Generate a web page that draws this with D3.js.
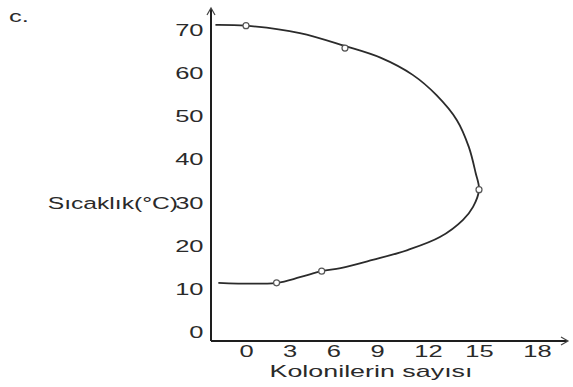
<!DOCTYPE html>
<html>
<head>
<meta charset="utf-8">
<script src="https://cdn.jsdelivr.net/npm/d3@7"></script>
<style>
  body { margin: 0; background: #fff; }
  svg text { font-family: "Liberation Sans", Arial, sans-serif; fill: #2a2a2a; }
</style>
</head>
<body>
<svg id="chart" width="573" height="387"></svg>
<script>
// values
var yTicks = [0, 10, 20, 30, 40, 50, 60, 70];
var xTicks = [0, 3, 6, 9, 12, 15, 18];

// curve trace: upper branch out to x=15, then lower branch back to the axis
var curveX = [-2.1, 0, 3.7, 6.8, 9.2, 11.1, 12.5, 13.7, 14.4, 14.8, 15, 14.65, 14.06, 12.7, 10.8, 8.7, 6.5, 5.2, 3.7, 2.1, -1.9];
var curveY = [71.2, 71, 69.3, 66.3, 63.6, 59.6, 54.9, 49.1, 42.9, 36.9, 33, 29, 26, 22, 19, 16.7, 14.8, 14.1, 12.7, 11.4, 11.4];

// plotted (circled) points
var pointX = [0, 6.8, 15, 5.2, 2.1];
var pointY = [71, 65.8, 33, 14.1, 11.4];

var yLabel = "Sıcaklık(°C)";
var xLabel = "Kolonilerin sayısı";
var figLabel = "c.";

var stretch = "scale(1.5,1)"; // the scanned lettering is wide

var svg = d3.select("#chart");

// the hand drawn tick spacing is uneven, so a piecewise scale
var x = d3.scaleLinear().domain([0, 9, 15, 18]).range([246, 377, 479, 537]);
var y = d3.scaleLinear().domain([0, 70]).range([332, 30]);

var axisX0 = 211, axisY0 = 341;

// axis lines + arrow heads
svg.append("line")
  .attr("x1", axisX0).attr("x2", axisX0)
  .attr("y1", 9).attr("y2", axisY0)
  .attr("stroke", "#1e1e1e").attr("stroke-width", 2);
svg.append("path")
  .attr("d", "M" + (axisX0 - 4) + ",15L" + axisX0 + ",8L" + (axisX0 + 4) + ",15")
  .attr("fill", "none").attr("stroke", "#444").attr("stroke-width", 1.2);

svg.append("line")
  .attr("x1", axisX0).attr("x2", 567)
  .attr("y1", axisY0).attr("y2", axisY0)
  .attr("stroke", "#1e1e1e").attr("stroke-width", 2);
svg.append("path")
  .attr("d", "M561," + (axisY0 - 4) + "L568," + axisY0 + "L561," + (axisY0 + 4))
  .attr("fill", "none").attr("stroke", "#444").attr("stroke-width", 1.2);

// tick labels
var gy = svg.append("g")
  .attr("transform", "translate(" + axisX0 + ",0)")
  .call(d3.axisLeft(y).tickValues(yTicks).tickSize(0).tickPadding(5));
gy.select(".domain").remove();
gy.selectAll("text")
  .attr("transform", stretch)
  .style("font-size", "17px")
  .attr("fill", "#2a2a2a");

var gx = svg.append("g")
  .attr("transform", "translate(0," + axisY0 + ")")
  .call(d3.axisBottom(x).tickValues(xTicks).tickSize(0).tickPadding(4));
gx.select(".domain").remove();
gx.selectAll("text")
  .attr("transform", stretch)
  .style("font-size", "17px")
  .attr("fill", "#2a2a2a");

// titles
svg.append("g").attr("transform", "translate(178," + (y(30) + 6) + ")")
  .append("text")
  .attr("transform", "scale(1.45,1)")
  .attr("text-anchor", "end")
  .style("font-size", "17px")
  .text(yLabel);

svg.append("g").attr("transform", "translate(371,377)")
  .append("text")
  .attr("transform", "scale(1.58,1)")
  .attr("text-anchor", "middle")
  .style("font-size", "17px")
  .text(xLabel);

svg.append("g").attr("transform", "translate(9,22)")
  .append("text")
  .attr("transform", stretch)
  .style("font-size", "17px")
  .text(figLabel);

// curve
var line = d3.line()
  .curve(d3.curveCatmullRom)
  .x(function (d) { return x(d[0]); })
  .y(function (d) { return y(d[1]); });

var pts = curveX.map(function (v, i) { return [v, curveY[i]]; });

svg.append("path")
  .datum(pts)
  .attr("d", line)
  .attr("fill", "none")
  .attr("stroke", "#2b2b2b")
  .attr("stroke-width", 1.8);

svg.selectAll("circle.pt")
  .data(pointX.map(function (v, i) { return [v, pointY[i]]; }))
  .enter().append("circle")
  .attr("class", "pt")
  .attr("cx", function (d) { return x(d[0]); })
  .attr("cy", function (d) { return y(d[1]); })
  .attr("r", 3)
  .attr("fill", "#fff")
  .attr("stroke", "#555")
  .attr("stroke-width", 1.2);
</script>
</body>
</html>
